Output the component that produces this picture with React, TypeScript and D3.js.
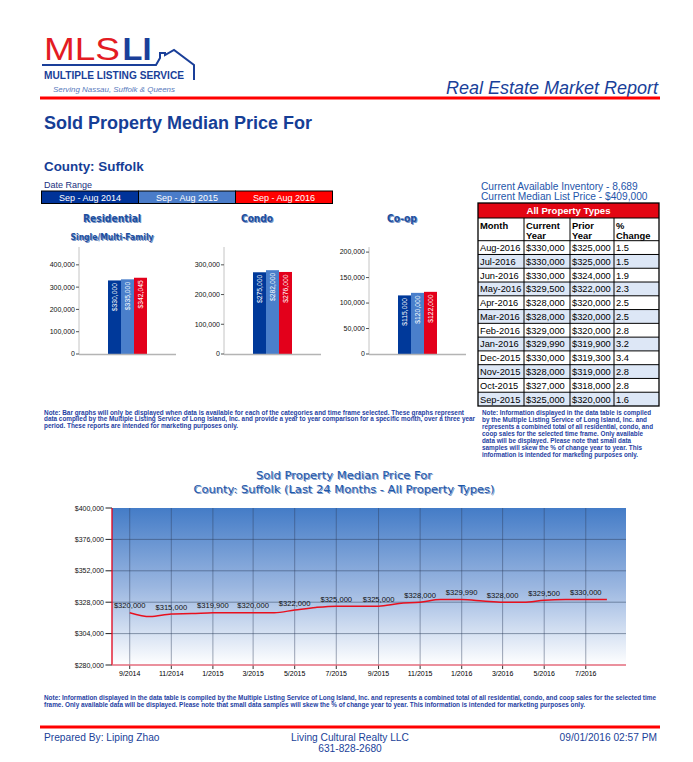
import React from "react";
import * as d3 from "d3";

// ---------- DATA ----------
const legendLabels = ["Sep - Aug 2014", "Sep - Aug 2015", "Sep - Aug 2016"];
const barTitles = ["Residential", "Condo", "Co-op"];
const residentialValues = [330000, 335000, 342045];
const condoValues = [275000, 282000, 276000];
const coopValues = [115000, 120000, 122000];
const residentialTicks = [0, 100000, 200000, 300000, 400000];
const condoTicks = [0, 100000, 200000, 300000];
const coopTicks = [0, 50000, 100000, 150000, 200000];
const residentialMax = 480000;
const condoMax = 360000;
const coopMax = 210000;

const tableMonths = ["Aug-2016", "Jul-2016", "Jun-2016", "May-2016", "Apr-2016", "Mar-2016", "Feb-2016", "Jan-2016", "Dec-2015", "Nov-2015", "Oct-2015", "Sep-2015"];
const currentYear = [330000, 330000, 330000, 329500, 328000, 328000, 329000, 329990, 330000, 328000, 327000, 325000];
const priorYear = [325000, 325000, 324000, 322000, 320000, 320000, 320000, 319900, 319300, 319000, 318000, 320000];
const pctChange = [1.5, 1.5, 1.9, 2.3, 2.5, 2.5, 2.8, 3.2, 3.4, 2.8, 2.8, 1.6];

const lineMonths = ["2014-09", "2014-10", "2014-11", "2014-12", "2015-01", "2015-02", "2015-03", "2015-04", "2015-05", "2015-06", "2015-07", "2015-08", "2015-09", "2015-10", "2015-11", "2015-12", "2016-01", "2016-02", "2016-03", "2016-04", "2016-05", "2016-06", "2016-07", "2016-08"];
const lineValues = [320000, 317000, 319000, 319300, 319900, 320000, 320000, 320000, 322000, 324000, 325000, 325000, 325000, 327000, 328000, 330000, 329990, 329000, 328000, 328000, 329500, 330000, 330000, 330000];
const lineTickMonths = ["2014-09", "2014-11", "2015-01", "2015-03", "2015-05", "2015-07", "2015-09", "2015-11", "2016-01", "2016-03", "2016-05", "2016-07"];
const pointLabelValues = [320000, 315000, 319900, 320000, 322000, 325000, 325000, 328000, 329990, 328000, 329500, 330000];
const lineYTicks = [280000, 304000, 328000, 352000, 376000, 400000];

const leftNote = [
  "Note: Bar graphs will only be displayed when data is available for each of the categories and time frame selected. These graphs represent",
  "data compiled by the Multiple Listing Service of Long Island, Inc. and provide a year to year comparison for a specific month, over a three year",
  "period. These reports are intended for marketing purposes only.",
];
const rightNote = [
  "Note: Information displayed in the data table is compiled",
  "by the Multiple  Listing Service of Long Island, Inc. and",
  "represents a combined total of all residential, condo, and",
  "coop sales for the selected time frame. Only available",
  "data will be displayed. Please note that small data",
  "samples will skew the % of change year to year. This",
  "information is intended for marketing purposes only.",
];
const footerNote = [
  "Note: Information displayed in the data table is compiled by the Multiple  Listing Service of Long Island, Inc. and represents a combined total of all residential, condo, and coop sales for the selected time",
  "frame. Only available data will be displayed. Please note that small data samples will skew the % of change year to year. This information is intended for marketing purposes only.",
];

// ---------- STYLE ----------
const BLUE = "#163e96";
const NOTE = "#1f3fa3";
const RED = "#ff0000";
const barColors = ["#00399a", "#4a7fcb", "#e3001b"];
const legendColors = ["#003399", "#4a7cc9", "#ff0000"];
const TAHOMA = "'DejaVu Sans', Verdana, sans-serif";

const fmt = d3.format(",");
const money = (v: number) => "$" + d3.format(",")(v);
const parseMonth = d3.timeParse("%Y-%m");

function ShadowText(props: any) {
  const { x, y, children, ...rest } = props;
  return (
    <g>
      <text x={x + 1} y={y + 1} fill="#9aa6bd" opacity={0.6} {...rest}>{children}</text>
      <text x={x} y={y} {...rest}>{children}</text>
    </g>
  );
}

function BarChart({ axisX, values, ticks, max, title, subtitle }: any) {
  const y = d3.scaleLinear().domain([0, max]).range([354, 247]);
  const x = d3.scaleBand<string>().domain(legendLabels).range([axisX + 29, axisX + 68]);
  const right = axisX + 97;
  return (
    <g>
      <ShadowText x={axisX + 33} y={222} textAnchor="middle" fontFamily={TAHOMA} fontWeight="bold" fontSize={11} fill="#1d4f9f" textLength={title === "Residential" ? 58 : title === "Condo" ? 32 : 30} lengthAdjust="spacingAndGlyphs">{title}</ShadowText>
      {subtitle && (
        <ShadowText x={axisX + 33} y={240} textAnchor="middle" fontFamily={TAHOMA} fontWeight="bold" fontSize={8.6} fill="#1d4f9f" textLength={83} lengthAdjust="spacingAndGlyphs">{subtitle}</ShadowText>
      )}
      <line x1={axisX} x2={axisX} y1={247} y2={354} stroke="#c4c4c4" strokeWidth={1} />
      {ticks.map((t: number) => (
        <g key={t}>
          <line x1={axisX - 3} x2={axisX} y1={y(t)} y2={y(t)} stroke="#555" />
          <text x={axisX - 4} y={y(t) + 2.4} textAnchor="end" fontSize={7} fill="#111">{fmt(t)}</text>
        </g>
      ))}
      {values.map((v: number, i: number) => (
        <g key={i}>
          <rect x={x(legendLabels[i])} y={y(v)} width={x.bandwidth()} height={y(0) - y(v)} fill={barColors[i]} />
          <text transform={`translate(${(x(legendLabels[i]) as number) + x.bandwidth() / 2 + 2.4},${y(v) + 2.5}) rotate(-90)`} textAnchor="end" fontSize={6.8} fill="#fff">{money(v)}</text>
        </g>
      ))}
      <line x1={axisX} x2={right} y1={354.5} y2={354.5} stroke="#b4b4b4" strokeWidth={1.5} />
    </g>
  );
}

function Table() {
  const cols = [478, 524, 570, 614, 659];
  const rows = d3.scaleBand<string>().domain(tableMonths).range([240.7, 406]);
  const rh = rows.bandwidth();
  return (
    <g fontSize={9.3} fill="#000">
      <rect x={478} y={203} width={181} height={15} fill="#e30613" />
      <text x={568.5} y={214} textAnchor="middle" fill="#fff" fontWeight="bold" fontSize={9.6}>All Property Types</text>
      <rect x={478} y={218} width={181} height={22.7} fill="#fff" />
      {[["Month"], ["Current", "Year"], ["Prior", "Year"], ["%", "Change"]].map((lines, c) => (
        <text key={c} x={cols[c] + 2} fontWeight="bold" fontSize={9.4}>
          {lines.map((l, k) => (
            <tspan key={k} x={cols[c] + 2} y={229 + k * 9.5}>{l}</tspan>
          ))}
        </text>
      ))}
      {tableMonths.map((m, i) => {
        const y0 = rows(m) as number;
        return (
          <g key={m}>
            <rect x={478} y={y0} width={181} height={rh} fill={i % 2 === 1 ? "#dde7f6" : "#fff"} />
            <text x={cols[0] + 2} y={y0 + 10.3}>{m}</text>
            <text x={cols[1] + 2} y={y0 + 10.3}>{money(currentYear[i])}</text>
            <text x={cols[2] + 2} y={y0 + 10.3}>{money(priorYear[i])}</text>
            <text x={cols[3] + 2} y={y0 + 10.3}>{pctChange[i].toFixed(1)}</text>
            <line x1={478} x2={659} y1={y0} y2={y0} stroke="#000" strokeWidth={1} />
          </g>
        );
      })}
      <line x1={478} x2={659} y1={218} y2={218} stroke="#000" />
      {cols.slice(1, 4).map((c) => (
        <line key={c} x1={c} x2={c} y1={218} y2={406} stroke="#000" />
      ))}
      <rect x={478} y={203} width={181} height={203} fill="none" stroke="#000" strokeWidth={1.3} />
    </g>
  );
}

function LineChart() {
  const x = d3.scaleTime().domain([new Date(2014, 7, 6), new Date(2016, 7, 29)]).range([112, 626]);
  const y = d3.scaleLinear().domain([280000, 400000]).range([665, 508]);
  const dates = lineMonths.map((m) => parseMonth(m) as Date);
  const tickDates = lineTickMonths.map((m) => parseMonth(m) as Date);
  const line = d3
    .line<number>()
    .x((_, i) => x(dates[i]))
    .y((v) => y(v))
    .curve(d3.curveMonotoneX);
  const tf = d3.timeFormat("%-m/%Y");
  return (
    <g>
      <defs>
        <linearGradient id="plotGrad" x1="0" y1="0" x2="0" y2="1">
          <stop offset="0" stopColor="#447cc7" />
          <stop offset="0.5" stopColor="#9ab6e0" />
          <stop offset="1" stopColor="#ffffff" />
        </linearGradient>
      </defs>
      <ShadowText x={344} y={479} textAnchor="middle" fontFamily={TAHOMA} fontSize={11} fill="#1d56a8" textLength={176} lengthAdjust="spacingAndGlyphs">Sold Property Median Price For</ShadowText>
      <ShadowText x={344} y={493} textAnchor="middle" fontFamily={TAHOMA} fontSize={11} fill="#1d56a8" textLength={301} lengthAdjust="spacingAndGlyphs">County: Suffolk (Last 24 Months - All Property Types)</ShadowText>
      <rect x={112} y={508} width={514} height={157} fill="url(#plotGrad)" />
      {lineYTicks.slice(1, -1).map((t) => (
        <line key={t} x1={112} x2={626} y1={y(t)} y2={y(t)} stroke="#2e3f5e" strokeOpacity={0.5} />
      ))}
      {tickDates.map((d, i) => (
        <line key={i} x1={x(d)} x2={x(d)} y1={508} y2={665} stroke="#2e3f5e" strokeOpacity={0.45} />
      ))}
      {lineYTicks.map((t) => (
        <g key={t}>
          <line x1={105.5} x2={112} y1={y(t)} y2={y(t)} stroke="#222" />
          <text x={104} y={y(t) + 2.5} textAnchor="end" fontSize={7} fill="#111">{money(t)}</text>
        </g>
      ))}
      {tickDates.map((d, i) => (
        <g key={i}>
          <line x1={x(d)} x2={x(d)} y1={665} y2={669} stroke="#333" />
          <text x={x(d)} y={676} textAnchor="middle" fontSize={7} fill="#000">{tf(d)}</text>
        </g>
      ))}
      <path d={line(lineValues) as string} fill="none" stroke="#e8101e" strokeWidth={1.5} />
      {lineTickMonths.map((m, i) => {
        const idx = lineMonths.indexOf(m);
        return (
          <text key={m} x={x(dates[idx])} y={y(lineValues[idx]) - 4.3} textAnchor="middle" fontSize={7.6} fill="#111">{money(pointLabelValues[i])}</text>
        );
      })}
      <line x1={112} x2={112} y1={508} y2={665} stroke="#e0001a" strokeWidth={1.3} />
      <line x1={112} x2={626} y1={665} y2={665} stroke="#e36b7c" strokeWidth={1.3} />
    </g>
  );
}

export default function App() {
  return (
    <svg width={693} height={762} style={{ position: "absolute", left: 0, top: 0, background: "#fff" }} fontFamily="'Liberation Sans', Arial, sans-serif">
      <rect width={693} height={762} fill="#fff" />
      {/* Logo */}
      <text x={44} y={60} fontSize={32} fill="#e31b23" textLength={76} lengthAdjust="spacingAndGlyphs">MLS</text>
      <text x={122.5} y={60} fontSize={32} fontWeight="bold" fill="#1a3f99" textLength={29} lengthAdjust="spacingAndGlyphs">LI</text>
      <path d="M42,65 H156 L160,58 V53 H165 V55 L174,50 L194,65 V80" fill="none" stroke="#1a3f99" strokeWidth={2} />
      <text x={44} y={79} fontSize={10} fontWeight="bold" fill="#1a3f99" textLength={140} lengthAdjust="spacingAndGlyphs">MULTIPLE LISTING SERVICE</text>
      <text x={53} y={92} fontSize={7.5} fontStyle="italic" fill="#5a7bbd" textLength={122} lengthAdjust="spacingAndGlyphs">Serving Nassau, Suffolk &amp; Queens</text>
      <text x={658} y={94} textAnchor="end" fontSize={18} fontStyle="italic" fill="#1a3f99">Real Estate Market Report</text>
      <line x1={40} x2={660} y1={98} y2={98} stroke={RED} strokeWidth={3} />

      <text x={44} y={129} fontSize={18} fontWeight="bold" fill={BLUE}>Sold Property Median Price For</text>
      <text x={44} y={171} fontSize={13.4} fontWeight="bold" fill={BLUE}>County: Suffolk</text>
      <text x={44} y={188} fontSize={9} fill="#1a3080">Date Range</text>
      {legendLabels.map((l, i) => (
        <g key={l}>
          <rect x={41.5 + i * 97} y={191} width={97} height={12.5} fill={legendColors[i]} stroke="#000" strokeWidth={1} />
          <text x={41.5 + i * 97 + 48.5} y={200.6} textAnchor="middle" fontSize={9} fill="#fff">{l}</text>
        </g>
      ))}

      <BarChart axisX={79} values={residentialValues} ticks={residentialTicks} max={residentialMax} title={barTitles[0]} subtitle="Single/Multi-Family" />
      <BarChart axisX={224} values={condoValues} ticks={condoTicks} max={condoMax} title={barTitles[1]} />
      <BarChart axisX={369} values={coopValues} ticks={coopTicks} max={coopMax} title={barTitles[2]} />

      <text x={481} y={190} fontSize={10.2} fill="#1d55aa">Current Available Inventory - 8,689</text>
      <text x={481} y={199.5} fontSize={10.2} fill="#1d55aa">Current Median List Price - $409,000</text>
      <Table />

      {leftNote.map((l, i) => (
        <text key={i} x={44} y={414.5 + i * 6.8} fontSize={6.6} fontWeight="bold" fill={NOTE} textLength={[420, 431, 194][i]} lengthAdjust="spacingAndGlyphs">{l}</text>
      ))}
      {rightNote.map((l, i) => (
        <text key={i} x={482} y={414.5 + i * 7} fontSize={6.6} fontWeight="bold" fill={NOTE} textLength={[169, 165, 171, 161, 149, 160, 156][i]} lengthAdjust="spacingAndGlyphs">{l}</text>
      ))}

      <LineChart />

      {footerNote.map((l, i) => (
        <text key={i} x={44} y={699.5 + i * 7.7} fontSize={6.6} fontWeight="bold" fill={NOTE} textLength={[612, 541][i]} lengthAdjust="spacingAndGlyphs">{l}</text>
      ))}
      <line x1={40} x2={660} y1={727} y2={727} stroke={RED} strokeWidth={3} />
      <text x={44} y={741} fontSize={10.2} fill="#1a3f99">Prepared By: Liping Zhao</text>
      <text x={350} y={741} textAnchor="middle" fontSize={10.2} fill="#1a3f99">Living Cultural Realty LLC</text>
      <text x={350} y={752} textAnchor="middle" fontSize={10.2} fill="#1a3f99">631-828-2680</text>
      <text x={657} y={741} textAnchor="end" fontSize={10.2} fill="#1a3f99">09/01/2016 02:57 PM</text>
    </svg>
  );
}
